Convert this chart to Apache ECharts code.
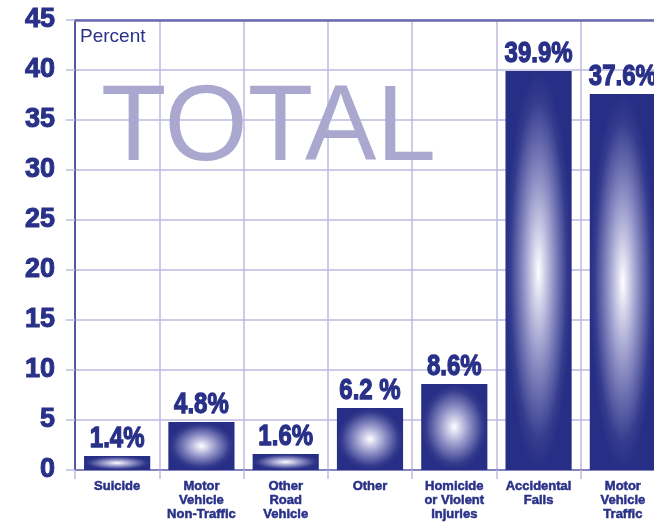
<!DOCTYPE html>
<html>
<head>
<meta charset="utf-8">
<script src="https://cdn.jsdelivr.net/npm/echarts@6/dist/echarts.min.js"></script>
<style>
  html, body { margin: 0; padding: 0; background: #ffffff; }
  #chart { width: 654px; height: 524px; }
</style>
</head>
<body>
<div id="chart"></div>
<script>
// Injury causes, share of total (percent)
const categories = [
  'Suicide',
  'Motor\nVehicle\nNon-Traffic',
  'Other\nRoad\nVehicle',
  'Other',
  'Homicide\nor Violent\nInjuries',
  'Accidental\nFalls',
  'Motor\nVehicle\nTraffic'
];
const values = [1.4, 4.8, 1.6, 6.2, 8.6, 39.9, 37.6];
const valueLabels = ['1.4%', '4.8%', '1.6%', '6.2 %', '8.6%', '39.9%', '37.6%'];
const yTicks = [0, 5, 10, 15, 20, 25, 30, 35, 40, 45];

const NAVY = '#283088';
const GRID = '#bdbadf';
const SANS = '"Liberation Sans", Arial, Helvetica, sans-serif';

const chart = echarts.init(document.getElementById('chart'), null, { renderer: 'canvas' });

// Radial shading: white core fading out to navy at the bar edges
const barFill = new echarts.graphic.RadialGradient(0.5, 0.5, 0.5, [
  { offset: 0, color: '#ffffff' },
  { offset: 0.18, color: '#d2d2ea' },
  { offset: 0.5, color: '#8587bf' },
  { offset: 0.85, color: '#353c8e' },
  { offset: 1, color: '#262e85' }
]);

function renderBar(params, api) {
  const idx = api.value(0);
  const val = api.value(1);
  const base = api.coord([idx, 0]);
  const top = api.coord([idx, val]);
  const bandW = api.size([1, 0])[0];
  const w = bandW * 0.785;
  const h = base[1] - top[1];
  return {
    type: 'group',
    children: [
      {
        // square shape stretched to the bar height so the shading becomes an ellipse
        type: 'rect',
        x: base[0] - w / 2,
        y: top[1],
        scaleY: h / w,
        shape: { x: 0, y: 0, width: w, height: w },
        style: { fill: barFill }
      },
      {
        // value label, narrowed horizontally for a condensed look
        type: 'text',
        x: base[0],
        y: top[1] - 2,
        scaleX: 0.8,
        style: {
          text: valueLabels[params.dataIndex],
          fill: NAVY,
          stroke: NAVY,
          lineWidth: 1.3,
          fontFamily: SANS,
          fontWeight: 'bold',
          fontSize: 30,
          align: 'center',
          verticalAlign: 'bottom'
        }
      }
    ]
  };
}

const option = {
  backgroundColor: '#ffffff',
  animation: false,
  grid: {
    left: 75,
    top: 20,
    width: 590,
    bottom: 54,
    containLabel: false,
    outerBoundsMode: 'none'
  },
  graphic: [
    {
      type: 'text',
      left: 80,
      top: 27,
      silent: true,
      style: { text: 'Percent', fill: NAVY, fontFamily: SANS, fontSize: 19 }
    },
    {
      type: 'text',
      left: 101,
      top: 77,
      z: 1,
      silent: true,
      style: { text: 'TOTAL', fill: '#aaa8cf', fontFamily: SANS, fontSize: 107 }
    }
  ],
  xAxis: [
    {
      type: 'category',
      data: categories,
      boundaryGap: true,
      axisLine: { show: true, lineStyle: { color: '#6f6db3', width: 1.5 } },
      axisTick: { show: true, interval: 0, length: 9, lineStyle: { color: GRID, width: 1.5 } },
      splitLine: { show: true, interval: 0, lineStyle: { color: GRID, width: 1.5 } },
      axisLabel: {
        interval: 0,
        margin: 9,
        color: NAVY,
        textBorderColor: NAVY,
        textBorderWidth: 0.5,
        fontFamily: SANS,
        fontWeight: 'bold',
        fontSize: 13,
        lineHeight: 14
      }
    },
    {
      type: 'category',
      position: 'top',
      data: categories,
      axisLine: { show: true, lineStyle: { color: '#6a68b0', width: 2.5 } },
      axisTick: { show: false },
      axisLabel: { show: false },
      splitLine: { show: false }
    }
  ],
  yAxis: {
    type: 'value',
    min: yTicks[0],
    max: yTicks[yTicks.length - 1],
    interval: 5,
    axisLine: { show: true, lineStyle: { color: NAVY, width: 1.5 } },
    axisTick: { show: true, length: 9, lineStyle: { color: GRID, width: 1.5 } },
    splitLine: { show: true, lineStyle: { color: GRID, width: 1.5 } },
    axisLabel: {
      margin: 20,
      color: NAVY,
      textBorderColor: NAVY,
      textBorderWidth: 1,
      fontFamily: SANS,
      fontWeight: 'bold',
      fontSize: 27
    }
  },
  series: [
    {
      type: 'custom',
      z: 3,
      renderItem: renderBar,
      encode: { x: 0, y: 1 },
      data: values.map((v, i) => [i, v])
    }
  ]
};

chart.setOption(option);
</script>
</body>
</html>
